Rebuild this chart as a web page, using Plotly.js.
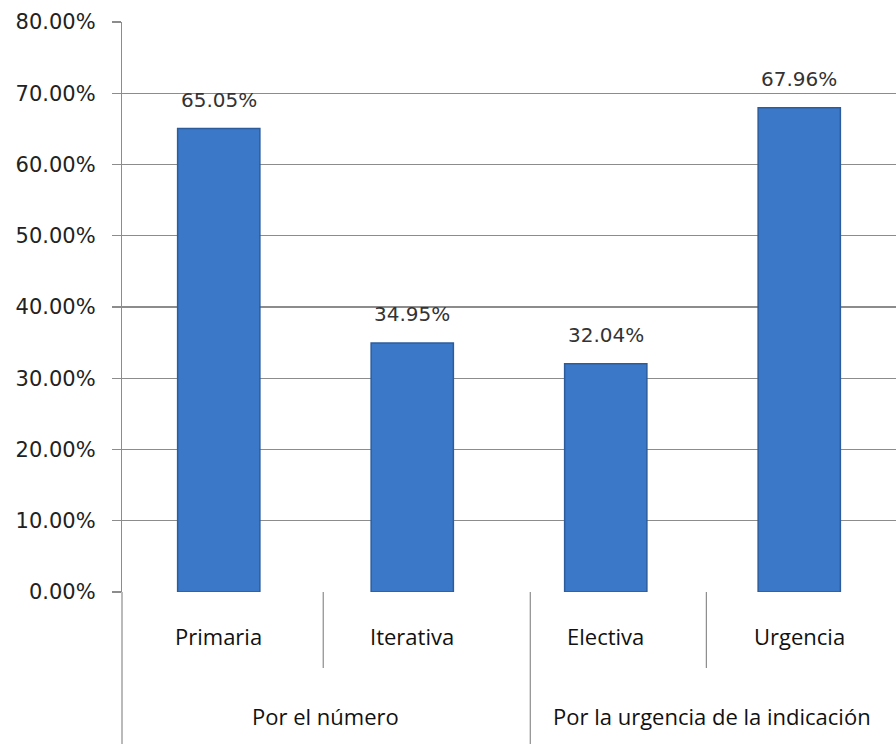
<!DOCTYPE html>
<html>
<head>
<meta charset="utf-8">
<script src="https://cdn.plot.ly/plotly-3.0.1.min.js"></script>
<style>html,body{margin:0;padding:0;background:#fff;}#chart{width:896px;height:744px;}</style>
</head>
<body>
<div id="chart"></div>
<script>
const categories = ["Primaria", "Iterativa", "Electiva", "Urgencia"];
const groups = ["Por el número", "Por la urgencia de la indicación"];
const groupMembers = [[0, 1], [2, 3]];
const values = [65.05, 34.95, 32.04, 67.96];
const valueLabels = ["65.05%", "34.95%", "32.04%", "67.96%"];
const yTicks = [0, 10, 20, 30, 40, 50, 60, 70, 80];
const yTickLabels = ["0.00%", "10.00%", "20.00%", "30.00%", "40.00%", "50.00%", "60.00%", "70.00%", "80.00%"];

const xs = categories.map((_, i) => i);
const lineCol = "#8c8c8c";
const catFont = {family: "Open Sans, sans-serif", size: 22, color: "#111"};

const shapes = [];
const annotations = [];
const innerDividers = [0.54, 2.52];
const outerDividers = [1.61];
innerDividers.forEach(x => shapes.push({type: "line", xref: "x", yref: "paper", x0: x, x1: x, y0: 0, y1: -0.1333, line: {color: lineCol, width: 1.2}}));
outerDividers.forEach(x => shapes.push({type: "line", xref: "x", yref: "paper", x0: x, x1: x, y0: 0, y1: -0.27, line: {color: lineCol, width: 1.2}}));
shapes.push({type: "line", xref: "paper", yref: "paper", x0: 0, x1: 0, y0: 0, y1: -0.27, line: {color: lineCol, width: 1.2}});

categories.forEach((c, i) => annotations.push({x: i, y: -0.077, xref: "x", yref: "paper", text: c, showarrow: false, font: catFont, yanchor: "middle"}));
groups.forEach((g, k) => {
  const m = groupMembers[k];
  annotations.push({x: (m[0] + m[m.length - 1]) / 2 + 0.05, y: -0.217, xref: "x", yref: "paper", text: g, showarrow: false, font: catFont, yanchor: "middle"});
});
values.forEach((v, i) => annotations.push({x: i, y: v, xref: "x", yref: "y", text: valueLabels[i], showarrow: false, yanchor: "bottom", yshift: 15, font: {family: "DejaVu Sans, sans-serif", size: 20, color: "#333"}}));

const trace = {
  type: "bar",
  x: xs,
  y: values,
  width: 0.425,
  marker: {color: "#3b78c8", line: {color: "#2c5c9c", width: 1.5}},
  hoverinfo: "skip"
};

const layout = {
  width: 896, height: 744,
  margin: {l: 122, r: 0, t: 22, b: 152},
  paper_bgcolor: "#fff", plot_bgcolor: "#fff",
  showlegend: false,
  bargap: 0,
  xaxis: {range: [-0.5, 3.5], showticklabels: false, showgrid: false, zeroline: false, showline: false, ticks: "", fixedrange: true},
  yaxis: {
    range: [0, 80], tickvals: yTicks, ticktext: yTickLabels,
    showgrid: true, gridcolor: lineCol, gridwidth: 1.2,
    showline: true, linecolor: lineCol, linewidth: 1.2,
    ticks: "outside", ticklen: 9, tickcolor: lineCol, tickwidth: 1.2,
    ticklabelstandoff: 12,
    zeroline: false,
    tickfont: {family: "DejaVu Sans, sans-serif", size: 21, color: "#222"},
    fixedrange: true
  },
  shapes: shapes,
  annotations: annotations
};

Plotly.newPlot("chart", [trace], layout, {displayModeBar: false, staticPlot: true});
</script>
</body>
</html>
